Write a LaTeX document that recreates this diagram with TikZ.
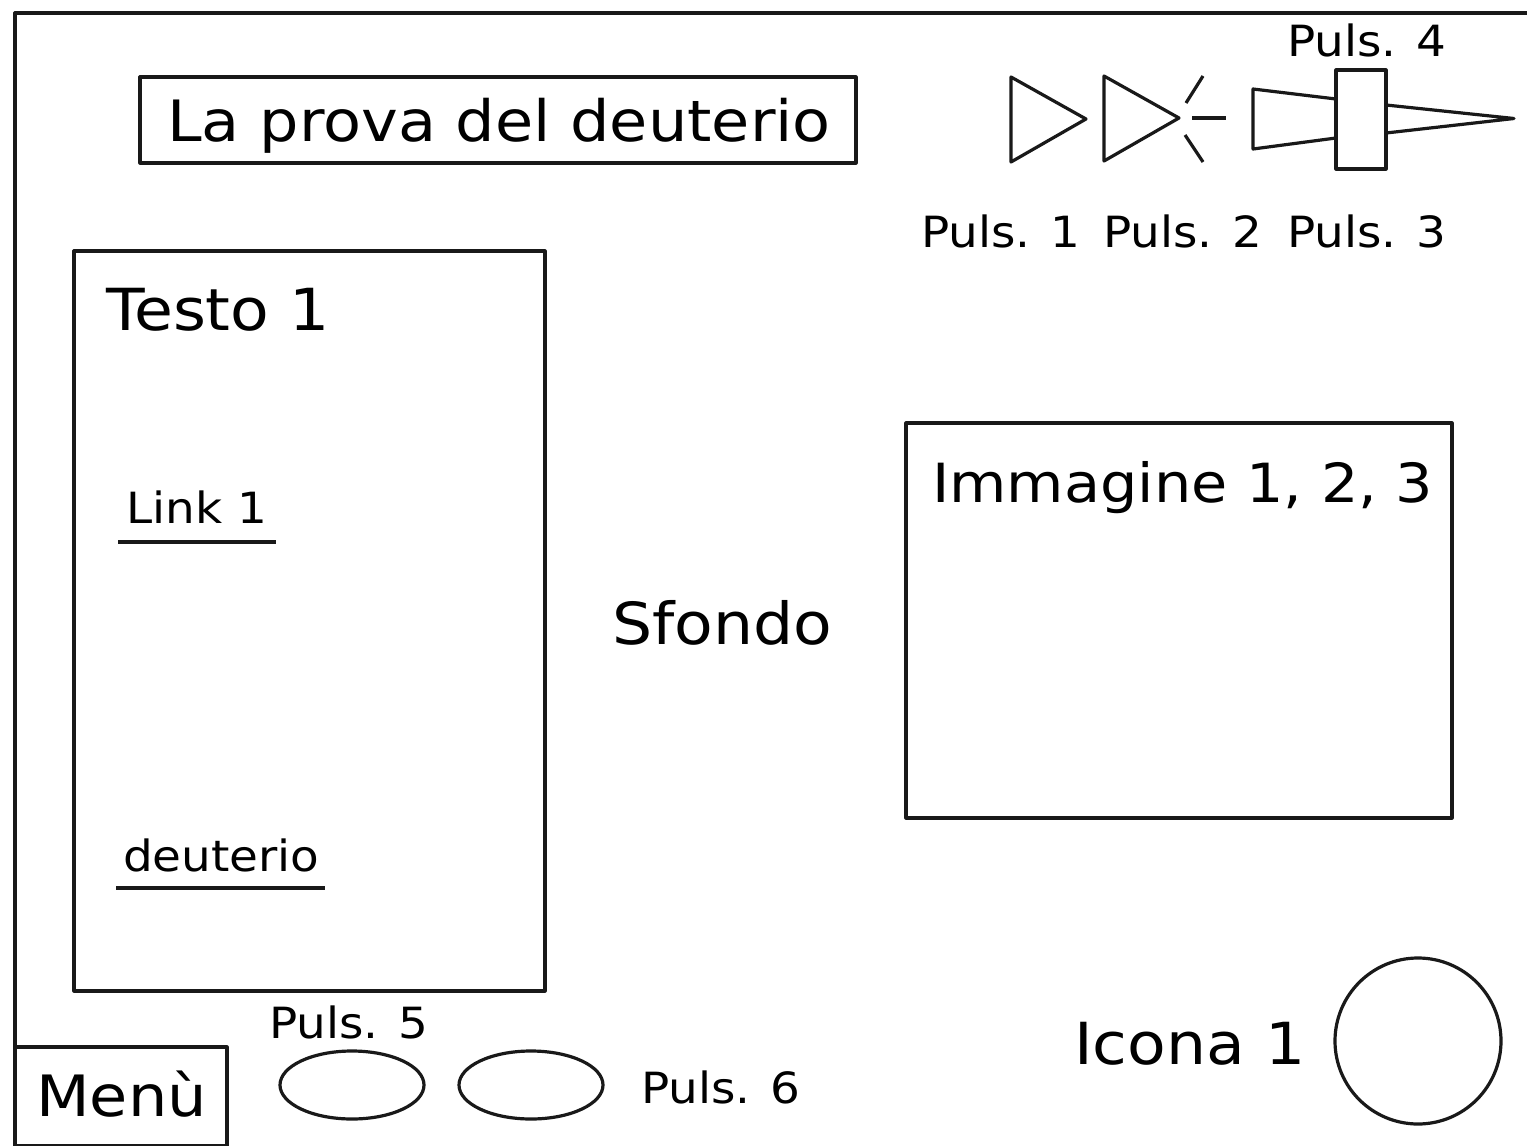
\documentclass[tikz,border=0pt]{standalone}
\usepackage{fontspec}
\setmainfont[FakeStretch=1.09]{DejaVu Sans}
\tikzset{x=1pt,y=-1pt,
 ln/.style={draw=black!90,line width=3.2pt,line join=round},
 lbl/.style={inner sep=0pt,anchor=base west,text=black},
 big/.style={lbl,font=\fontsize{58}{60}\selectfont},
 head/.style={lbl,font=\fontsize{57}{60}\selectfont},
 mid/.style={lbl,font=\fontsize{54}{60}\selectfont},
 sml/.style={lbl,font=\fontsize{43}{50}\selectfont}}
\begin{document}
\begin{tikzpicture}
\useasboundingbox (0,0) rectangle (1527,1146);
\fill[white] (0,0) rectangle (1527,1146);
\draw[ln] (15,1146) -- (15,13) -- (1527,13);
\draw[ln] (140,77) rectangle (856,163);
\node[head] (title) at (167,141) {La prova del deuterio};
\draw[ln] (1011,77) -- (1086,119) -- (1011,162) -- cycle;
\draw[ln] (1104,76) -- (1179,118) -- (1104,161) -- cycle;
\draw[ln] (1186,103) -- (1203,76);
\draw[ln] (1192,118) -- (1226,118);
\draw[ln] (1185,135) -- (1203,162);
\draw[ln] (1336,99) -- (1253,89) -- (1253,149) -- (1336,138);
\draw[ln] (1336,70) rectangle (1386,169);
\draw[ln] (1386,105) -- (1514,118.5) -- (1386,133);
\node[sml] (p4) at (1287,56) {Puls. 4};
\node[sml] (p1) at (921,247) {Puls. 1};
\node[sml] (p2) at (1103,247) {Puls. 2};
\node[sml] (p3) at (1287,247) {Puls. 3};
\draw[ln] (74,251) rectangle (545,991);
\node[big] (testo) at (106,330) {Testo 1};
\node[sml] (link) at (126,523) {Link 1};
\draw[ln] (118,542) -- (276,542);
\node[sml] (deut) at (123,871) {deuterio};
\draw[ln] (116,888) -- (325,888);
\node[big] (sfondo) at (612,644) {Sfondo};
\draw[ln] (906,423) rectangle (1452,818);
\node[mid] (imm) at (932,502) {Immagine 1, 2, 3};
\node[sml] (p5) at (269,1038) {Puls. 5};
\draw[ln] (15,1047) rectangle (227,1146);
\node[head] (menu) at (36,1116) {Menù};
\draw[ln] (352,1085) ellipse [x radius=72,y radius=34];
\draw[ln] (531,1085) ellipse [x radius=72,y radius=34];
\node[sml] (p6) at (641,1103) {Puls. 6};
\node[big] (icona) at (1074,1064) {Icona 1};
\draw[ln] (1418,1041) circle [radius=83];
\end{tikzpicture}
\end{document}
